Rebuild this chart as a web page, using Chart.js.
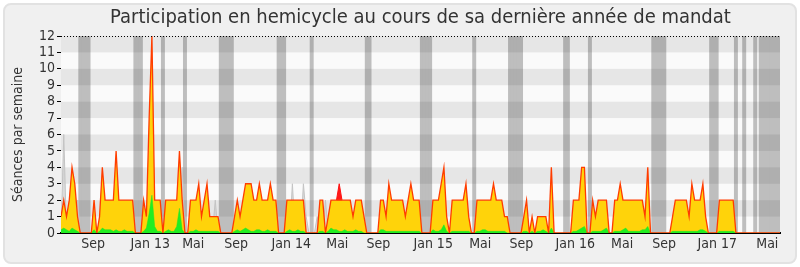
<!doctype html>
<html lang="fr">

<head>
  <meta charset="utf-8">
  <title>Participation en hemicycle</title>
  <style>
    body { margin: 0; background: #fff; }
    #cadre {
      position: absolute; left: 3px; top: 3px; width: 790px; height: 257px;
      border: 2px solid #e2e2e2; border-radius: 8px; background: #f0f0f0;
    }
    #graphique { position: absolute; left: 0; top: 0; }
  </style>
</head>

<body>
  <div id="cadre"></div>
  <canvas id="graphique" width="800" height="267"></canvas>

  <script src="https://cdn.jsdelivr.net/npm/chart.js@4"></script>

  <script>
    // Semaines depuis le 11 juin 2012 (une valeur par semaine)
    const presences = [
      1,2,1,2,4,3,1,0,0,0, 0,0,2,0,1,4,2,2,2,2,
      5,2,2,2,2,2,2,0,0,0, 2,1,7,12,2,2,2,0,2,2,
      2,2,2,5,2,0,0,2,2,2, 3,1,2,3,1,1,1,1,0,0,
      0,0,0,1,2,1,2,3,3,3, 2,2,3,2,2,2,3,2,2,0,
      0,0,2,2,2,2,2,2,2,0, 0,0,0,0,2,2,0,1,2,2,
      2,2,2,2,2,2,1,2,2,2, 1,0,0,0,0,0,2,2,1,3,
      2,2,2,2,2,1,2,3,2,2, 2,0,0,0,0,2,2,2,3,4,
      1,0,2,2,2,2,2,3,1,0, 0,2,2,2,2,2,2,3,2,2,
      2,1,1,0,0,0,0,0,1,2, 0,1,0,1,1,1,1,0,4,0,
      0,0,0,0,0,0,2,2,2,4, 4,0,0,2,1,2,2,2,2,0,
      0,2,2,3,2,2,2,2,2,2, 2,2,1,4,0,0,0,0,0,0,
      0,0,1,2,2,2,2,2,1,3, 2,2,2,3,1,0,0,0,0,2,
      2,2,2,2,2,0,0,0,0,0, 0,0,0,0,0,0,0,0,0,0,
      0,0
    ];
    const interventions = [
      .2,.3,.2,.1,.3,.2,.1,0,0,0, 0,0,.2,0,.1,.3,.2,.2,.2,.1,
      .2,.1,.1,.2,.1,.1,.1,0,0,0, .1,.3,1.2,2.3,.4,.1,.1,0,.1,.2,
      .1,.1,.4,1.5,.2,0,0,.1,.1,.2, .1,.1,.1,.1,.1,.1,.1,.1,0,0,
      0,0,0,.1,.2,.1,.2,.3,.2,.1, .1,.2,.2,.1,.1,.2,.1,.1,.1,0,
      0,0,.1,.2,.1,.1,.2,.1,.1,0, 0,0,0,0,.1,.1,0,.1,.3,.2,
      .2,.1,.1,.2,.1,.1,.1,.2,.1,.1, 0,0,0,0,0,0,.2,.2,.1,.1,
      .1,.1,.1,.1,.1,.1,.1,.1,.1,.1, .1,0,0,0,0,.2,.1,.1,.2,.5,
      .1,0,.1,.1,.1,.1,.1,.1,.1,0, 0,.1,.1,.2,.2,.1,.1,.1,.1,.1,
      .1,.1,0,0,0,0,0,0,.1,.1, 0,.1,0,.1,.1,.2,.1,0,.3,0,
      0,0,0,0,0,0,.1,.1,.2,.3, .4,0,0,.1,.1,.1,.1,.2,.3,0,
      0,.1,.1,.1,.2,.3,.1,.1,.1,.1, .1,.2,.2,.4,0,0,0,0,0,0,
      0,0,.1,.1,.1,.1,.1,.1,.1,.1, .1,.1,.2,.2,.1,0,0,0,0,.1,
      .1,.1,.1,.1,.1,0,0,0,0,0, 0,0,0,0,0,0,0,0,0,0,
      0,0
    ];
    // séances de la semaine au-dessus de la présence : [semaine, valeur]
    const seancesHemicycle = [
      [0,0],[1,6],[2,0],[5,0],[6,2],[7,0],[43,0],[44,4],[45,0],[55,0],[56,2],[57,0],
      [83,0],[84,3],[85,0],[87,0],[88,3],[89,1],[90,0],[92,0],[93,1],[94,0],[95,0],[96,2],[97,0]
    ];
    const depassements = [[100,2],[101,3],[102,2]];
    // semaines de vacances parlementaires
    const vacances = [
      7,8,9,10, 27,28,29, 37, 45, 58,59,60,61,62, 79,80,81, 91, 111,112,
      131,132,133,134, 150, 163,164,165,166,167, 183,184, 192, 215,216,217,218,219,
      236,237,238, 245, 248, 252, 254,255,256,257,258,259,260,261
    ];
    const moisLabels = ['Sep','Jan 13','Mai','Sep','Jan 14','Mai','Sep','Jan 15','Mai','Sep','Jan 16','Mai','Sep','Jan 17','Mai'];
    const moisSemaines = [11.7, 32.4, 48.0, 63.6, 83.6, 100.3, 115.2, 135.1, 152.2, 167.1, 186.7, 203.7, 218.9, 238.2, 256.4];
    const nbSemaines = 261;

    const police = '"DejaVu Sans Condensed", "DejaVu Sans", sans-serif';
    Chart.defaults.font.family = police;
    Chart.defaults.color = '#333';

    const enPoints = arr => arr.map((v, i) => ({ x: i, y: v }));
    const enPaires = arr => arr.map(p => ({ x: p[0], y: p[1] }));

    // fond clair, puis bandes horizontales posées sur les vacances, pointillé du haut
    const fond = {
      id: 'fond',
      beforeDatasetsDraw(chart) {
        const { ctx, chartArea: a } = chart;
        ctx.save();
        ctx.fillStyle = '#fafafa';
        ctx.fillRect(a.left, a.top, a.width, a.height);
        ctx.restore();
      },
      afterDatasetDraw(chart, args) {
        if (args.index !== 0) return;
        const { ctx, chartArea: a, scales: { y } } = chart;
        ctx.save();
        ctx.fillStyle = 'rgba(0,0,0,0.08)';
        for (let k = 1; k < 12; k += 2) {
          const haut = y.getPixelForValue(k + 1), bas = y.getPixelForValue(k);
          ctx.fillRect(a.left, haut, a.width, bas - haut);
        }
        ctx.restore();
      },
      afterDatasetsDraw(chart) {
        const { ctx, chartArea: a, scales: { y } } = chart;
        const py = Math.round(y.getPixelForValue(12)) + 0.5;
        ctx.save();
        ctx.strokeStyle = '#000';
        ctx.lineWidth = 1;
        ctx.setLineDash([1, 2]);
        ctx.beginPath();
        ctx.moveTo(a.left, py);
        ctx.lineTo(a.right, py);
        ctx.stroke();
        ctx.restore();
      }
    };

    const lienzo = document.getElementById('graphique');
    new Chart(lienzo, {
      type: 'line',
      data: {
        datasets: [
          {
            type: 'bar', order: 6,
            data: vacances.map(w => ({ x: w, y: 12 })),
            backgroundColor: '#bebebe', borderWidth: 0, inflateAmount: 0.6,
            barPercentage: 1, categoryPercentage: 1
          },
          {
            order: 5, data: enPaires(seancesHemicycle),
            borderColor: '#c4c4c4', borderWidth: 1,
            backgroundColor: 'rgba(205,205,205,0.7)', fill: 'origin'
          },
          {
            order: 4, data: enPaires(depassements),
            borderColor: '#ff1010', borderWidth: 1,
            backgroundColor: '#ff1a1a', fill: 'origin'
          },
          {
            order: 3, data: enPoints(presences),
            borderWidth: 0, borderColor: 'rgba(0,0,0,0)',
            backgroundColor: '#ffd30a', fill: 'origin'
          },
          {
            order: 2, data: enPoints(interventions),
            borderWidth: 0.5, borderColor: '#22e622',
            backgroundColor: '#22ee22', fill: 'origin'
          },
          {
            order: 1, data: enPoints(presences),
            borderColor: '#ff3c00', borderWidth: 1.3, fill: false
          }
        ]
      },
      options: {
        responsive: false,
        animation: false,
        elements: { point: { radius: 0 }, line: { tension: 0 } },
        layout: { padding: { left: 6, right: 20, top: 0, bottom: 0 } },
        plugins: {
          legend: { display: false },
          tooltip: { enabled: false },
          title: {
            display: true,
            fullSize: false,
            text: 'Participation en hemicycle au cours de sa dernière année de mandat',
            color: '#333',
            font: { size: 20, weight: 'normal', family: police, lineHeight: 1.1 },
            padding: { top: 7, bottom: 7 }
          }
        },
        scales: {
          x: {
            type: 'linear', min: 0, max: nbSemaines, offset: false, z: 1,
            grid: { display: true, drawOnChartArea: false, drawTicks: false },
            border: { display: true, color: '#000', width: 2 },
            afterBuildTicks: s => { s.ticks = moisSemaines.map(v => ({ value: v })); },
            afterFit: s => { s.height = 34; },
            ticks: {
              autoSkip: false, maxRotation: 0, minRotation: 0, padding: 3,
              font: { size: 14 }, color: '#333',
              callback: (v, i) => moisLabels[i]
            }
          },
          y: {
            min: 0, max: 12, z: 1,
            afterFit: s => { s.width = 55; },
            grid: { drawOnChartArea: false, drawTicks: true, tickLength: 4, tickColor: '#000' },
            border: { display: true, color: '#000', width: 1 },
            ticks: { stepSize: 1, autoSkip: false, padding: 2, font: { size: 14 }, color: '#333' },
            title: {
              display: true, text: 'Séances par semaine',
              font: { size: 14 }, color: '#333', padding: { top: 4, bottom: 0 }
            }
          }
        }
      },
      plugins: [fond]
    });
  </script>
</body>

</html>
